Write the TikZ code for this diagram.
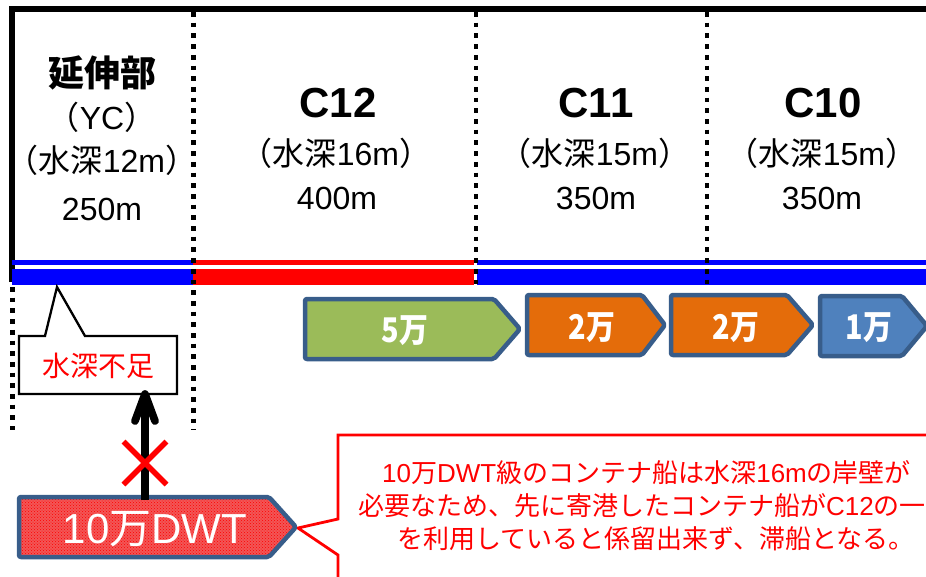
\documentclass[tikz,border=0pt]{standalone}
\usepackage{fontspec}
\usepackage{graphicx}
\setmainfont{Noto Sans CJK JP}
\newfontfamily\lat{Liberation Sans}
\usetikzlibrary{patterns,calc}
\definecolor{frameblue}{RGB}{56,93,138}
\definecolor{boxgreen}{RGB}{155,187,89}
\definecolor{boxorange}{RGB}{228,108,10}
\definecolor{boxblue}{RGB}{79,129,189}
\definecolor{barblue}{RGB}{0,0,255}
\definecolor{barred}{RGB}{255,0,0}
\definecolor{dwtred}{RGB}{242,86,86}
\newcommand\fs[1]{\fontsize{#1}{#1}\selectfont}
\newcommand\narrow[1]{\scalebox{0.85}[1]{#1}}
\newcommand\arrowshape[7]{%
  \draw[chevbox, fill=#7] (#2,#5) -- (#3,#5) -- (#4,{(#5+#6)/2}) -- (#3,#6) -- (#2,#6) -- cycle;
  \coordinate (#1) at ({(#2+#3)/2},{(#5+#6)/2});
}
\begin{document}
\begin{tikzpicture}[x=1pt,y=-1pt,
  dotline/.style={line width=4.7pt, dash pattern=on 4.7pt off 6pt},
  headtext/.style={font=\lat\bfseries\fs{42}, inner sep=0pt},
  subtext/.style={font=\fs{32}, inner sep=0pt},
  chevbox/.style={draw=frameblue, line width=4.5pt, rounded corners=2pt, line join=round},
  wlabel/.style={text=white, font=\bfseries\fs{34}, inner sep=0pt},
  redtext/.style={text=red, font=\fs{26}, inner sep=0pt},
]
\useasboundingbox (0,0) rectangle (926,576);
\clip (0,0) rectangle (926,576);

% frame
\draw[line width=5.7pt] (12,282) -- (12,9) -- (935,9);

% berth bars
\draw[barblue, line width=5pt] (12,262.5) -- (193,262.5);
\draw[barblue, line width=16pt] (12,277) -- (193,277);
\draw[barred, line width=5pt] (193,262.5) -- (474,262.5);
\draw[barred, line width=16pt] (193,277) -- (474,277);
\draw[barblue, line width=5pt] (477,262.5) -- (935,262.5);
\draw[barblue, line width=16pt] (477,277) -- (935,277);

% dotted separators
\draw[dotline] (193.5,12) -- (193.5,430);
\draw[dotline] (476,12) -- (476,286);
\draw[dotline] (707,12) -- (707,286);
\draw[dotline] (12.5,287) -- (12.5,430);

% berth texts
\node[inner sep=0pt, font=\bfseries\fs{36}] (yc-name) at (102,73) {延伸部};
\node[subtext] (yc-code) at (102,117) {（{\lat YC}）};
\node[subtext] (yc-depth) at (102,160) {（水深{\lat 12m}）};
\node[subtext, font=\lat\fs{32}] (yc-len) at (102,209) {250m};

\node[headtext] (c12-name) at (338,103) {C12};
\node[subtext] (c12-depth) at (336,153) {（水深{\lat 16m}）};
\node[subtext, font=\lat\fs{32}] (c12-len) at (337,198) {400m};

\node[headtext] (c11-name) at (596,103) {C11};
\node[subtext] (c11-depth) at (595,153) {（水深{\lat 15m}）};
\node[subtext, font=\lat\fs{32}] (c11-len) at (596,198) {350m};

\node[headtext] (c10-name) at (823,103) {C10};
\node[subtext] (c10-depth) at (822,153) {（水深{\lat 15m}）};
\node[subtext, font=\lat\fs{32}] (c10-len) at (822,198) {350m};

% ship arrows
\arrowshape{s5}{305}{494}{520}{299}{359}{boxgreen}
\arrowshape{s2a}{527}{642}{665}{295}{355}{boxorange}
\arrowshape{s2b}{671}{787}{813}{295}{355}{boxorange}
\arrowshape{s1}{820}{902}{927}{296}{356}{boxblue}
\node[wlabel] (t5) at (405,331) {\narrow{5万}};
\node[wlabel] (t2a) at (592,328) {\narrow{2万}};
\node[wlabel] (t2b) at (736,328) {\narrow{2万}};
\node[wlabel] (t1) at (869,328) {\narrow{1万}};

% callout: depth insufficient
\draw[line width=2.3pt, fill=white, line join=miter]
  (19,336) -- (45,336) -- (57,287) -- (85,336) -- (177,336) -- (177,394) -- (19,394) -- cycle;
\node[text=red, font=\fs{28}, inner sep=0pt] (shallow) at (98,366) {水深不足};

% red explanatory callout
\draw[red, line width=2.8pt, line join=miter]
  (338,519) -- (338,435) -- (940,435) -- (940,590) -- (338,590) -- (338,555) -- (298,528) -- cycle;
\node[redtext, anchor=west] (note1) at (382,473) {{\lat 10}万{\lat DWT}級のコンテナ船は水深{\lat 16m}の岸壁が};
\node[redtext, anchor=west] (note2) at (358,506) {必要なため、先に寄港したコンテナ船が{\lat C12}の一};
\node[redtext] (note3) at (656,539) {を利用していると係留出来ず、滞船となる。};

% blocked arrow
\coordinate (arrowstart) at (145,500);
\coordinate (arrowtip) at (145,394);
\draw[line width=7.7pt] (arrowstart) -- (arrowtip);
\draw[line width=7.7pt, line cap=round, line join=round]
  ($(arrowtip)+(-10,27)$) -- (arrowtip) -- ($(arrowtip)+(10,27)$);
\coordinate (cross) at (145,463);
\draw[red, line width=5.5pt] ($(cross)+(-21.5,-21.5)$) -- ($(cross)+(21.5,21.5)$);
\draw[red, line width=5.5pt] ($(cross)+(-21.5,21.5)$) -- ($(cross)+(21.5,-21.5)$);

% 10万DWT ship
\fill[dwtred, rounded corners=2pt] (19,497) -- (269,497) -- (296,527) -- (269,557) -- (19,557) -- cycle;
\fill[pattern=crosshatch dots, pattern color=red, rounded corners=2pt] (19,497) -- (269,497) -- (296,527) -- (269,557) -- (19,557) -- cycle;
\draw[chevbox] (19,497) -- (269,497) -- (296,527) -- (269,557) -- (19,557) -- cycle;
\draw[line width=7.7pt] (145,500) -- (145,493);
\node[text=white, font=\fs{42}, inner sep=0pt] (dwt) at (155,529) {{\lat 10}万{\lat DWT}};
\end{tikzpicture}
\end{document}
